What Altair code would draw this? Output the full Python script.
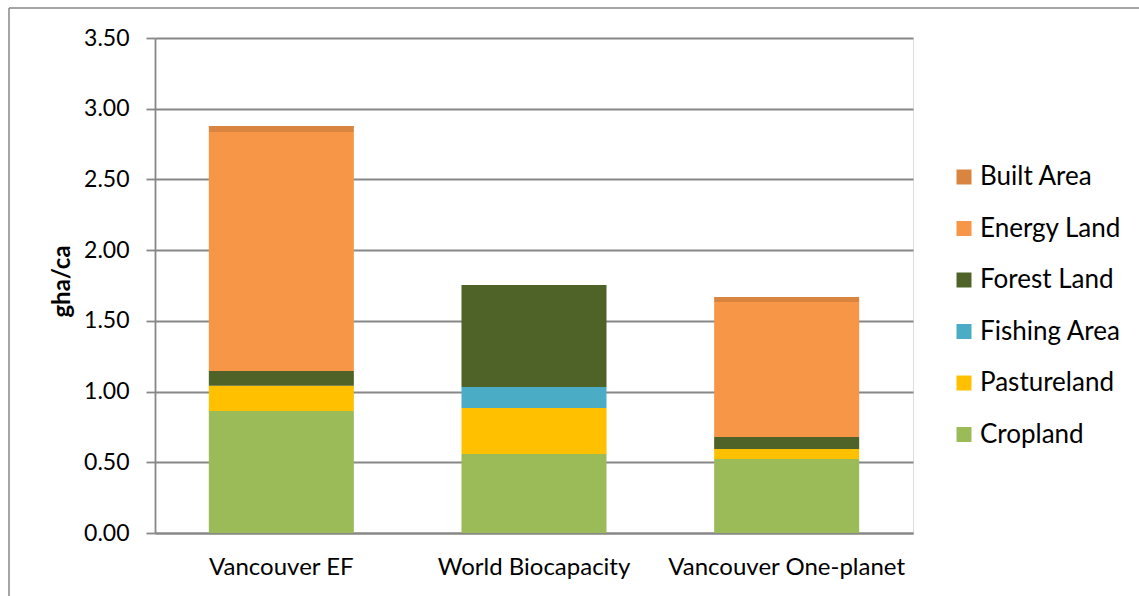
import altair as alt
import pandas as pd

categories = ["Vancouver EF", "World Biocapacity", "Vancouver One-planet"]
stack_layers = ["Cropland", "Pastureland", "Fishing Area", "Forest Land", "Energy Land", "Built Area"]
cropland = [0.863, 0.559, 0.523]
pastureland = [0.179, 0.325, 0.071]
fishing_area = [0.0, 0.148, 0.0]
forest_land = [0.104, 0.722, 0.085]
energy_land = [1.689, 0.0, 0.954]
built_area = [0.042, 0.0, 0.036]

legend_order = ["Built Area", "Energy Land", "Forest Land", "Fishing Area", "Pastureland", "Cropland"]
legend_colors = ["#D9843F", "#F79646", "#4F6228", "#4BACC6", "#FFC000", "#9BBB59"]

series = [cropland, pastureland, fishing_area, forest_land, energy_land, built_area]
rows = []
for li, (name, vals) in enumerate(zip(stack_layers, series)):
    for c, v in zip(categories, vals):
        rows.append({"Category": c, "Layer": name, "Value": v, "Idx": li})
df = pd.DataFrame(rows)

FONT = "Lato"
GRAY = "#878787"

bars = alt.Chart(df).mark_bar().encode(
    x=alt.X("Category:N", sort=categories,
            scale=alt.Scale(paddingInner=0.426, paddingOuter=0.213),
            axis=alt.Axis(title=None, labelAngle=0, ticks=False, domainColor=GRAY,
                          domainWidth=2, labelFontSize=24, labelPadding=22,
                          labelLimit=0, labelColor="black", labelFont=FONT)),
    y=alt.Y("Value:Q", stack="zero",
            scale=alt.Scale(domain=[0, 3.5], nice=False),
            axis=alt.Axis(title="gha/ca", values=[0, 0.5, 1, 1.5, 2, 2.5, 3, 3.5],
                          format=".2f", grid=True, gridColor=GRAY, gridWidth=1.8,
                          domainColor=GRAY, domainWidth=1.8, tickColor=GRAY,
                          tickWidth=1.8, tickSize=9, labelFontSize=23,
                          labelPadding=17, labelColor="black", labelFont=FONT,
                          titleFont=FONT, titleFontSize=24, titleFontWeight="bold",
                          titleColor="black", titleX=-93, titleY=243,
                          titleAlign="center", titleBaseline="middle", titleAngle=270)),
    color=alt.Color("Layer:N",
                    scale=alt.Scale(domain=legend_order, range=legend_colors),
                    legend=alt.Legend(title=None, orient="none", legendX=796, legendY=126,
                                      symbolType="square", symbolSize=225,
                                      symbolStrokeWidth=0, labelFontSize=26,
                                      labelFont=FONT, labelColor="black",
                                      labelOffset=3, labelLimit=0, rowPadding=25.5)),
    order=alt.Order("Idx:Q", sort="ascending"),
)

frame_df = pd.DataFrame({"k": [0]})
left_line = alt.Chart(frame_df).mark_rule(color=GRAY, strokeWidth=1.5).encode(
    x=alt.value(-146), y=alt.value(-30), y2=alt.value(600))
top_line = alt.Chart(frame_df).mark_rule(color=GRAY, strokeWidth=1.5).encode(
    x=alt.value(-146), x2=alt.value(1000), y=alt.value(-30))

chart = alt.layer(bars, left_line, top_line).properties(
    width=758, height=495,
    padding={"left": 155, "top": 38, "right": 226, "bottom": 63},
    autosize=alt.AutoSizeParams(type="none"),
).configure_view(stroke="transparent").configure(font=FONT)

chart.save("out.html", embed_options={"renderer": "svg", "actions": False})
